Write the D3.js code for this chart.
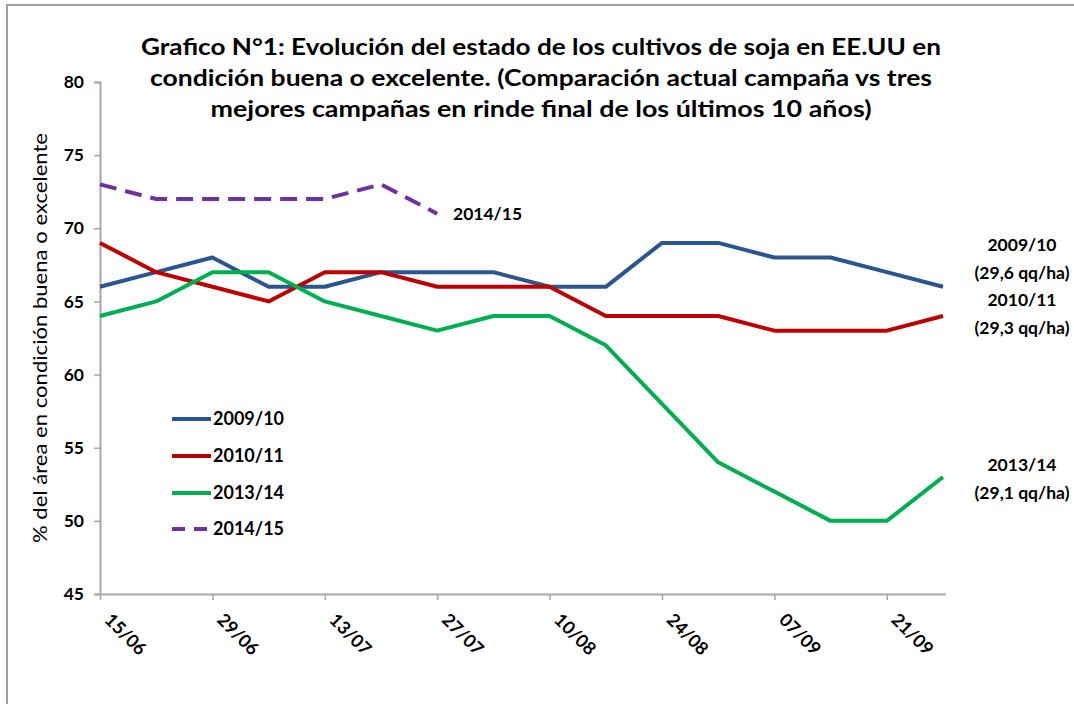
<!DOCTYPE html>
<html>
<head>
<meta charset="utf-8">
<script src="https://cdn.jsdelivr.net/npm/d3@7"></script>
<style>
  html, body { margin: 0; padding: 0; background: #fff; }
  svg { display: block; }
  text { font-family: Lato, "Open Sans", sans-serif; fill: #000; }
</style>
</head>
<body>
<svg id="chart" width="1074" height="704"></svg>
<script>
// ---- data ----
const weeks = ["15/06","22/06","29/06","06/07","13/07","20/07","27/07","03/08","10/08","17/08","24/08","31/08","07/09","14/09","21/09","28/09"];
const tickLabels = ["15/06","29/06","13/07","27/07","10/08","24/08","07/09","21/09"];
const yTicks = [45, 50, 55, 60, 65, 70, 75, 80];
const seriesNames = ["2009/10", "2010/11", "2013/14", "2014/15"];
const s2009 = [66, 67, 68, 66, 66, 67, 67, 67, 66, 66, 69, 69, 68, 68, 67, 66];
const s2010 = [69, 67, 66, 65, 67, 67, 66, 66, 66, 64, 64, 64, 63, 63, 63, 64];
const s2013 = [64, 65, 67, 67, 65, 64, 63, 64, 64, 62, 58, 54, 52, 50, 50, 53];
const s2014 = [73, 72, 72, 72, 72, 73, 71];
const endLabels = [
  ["2009/10", "(29,6 qq/ha)"],
  ["2010/11", "(29,3 qq/ha)"],
  ["2013/14", "(29,1 qq/ha)"]
];
const titleLines = [
  "Grafico N°1: Evolución del estado de los cultivos de soja en EE.UU en",
  "condición buena o excelente. (Comparación actual campaña vs tres",
  "mejores campañas en rinde final de los últimos 10 años)"
];
const yTitle = "% del área en condición buena o excelente";

// ---- layout ----
const svg = d3.select("#chart");
const colors = ["#2A5590", "#C00000", "#00B050", "#7030A0"];
const series = [s2009, s2010, s2013, s2014];

// chart area border (top & left visible)
svg.append("rect").attr("x", 7).attr("y", 5).attr("width", 1100).attr("height", 800)
  .attr("fill", "none").attr("stroke", "#A0A0A0").attr("stroke-width", 2);

const x = d3.scalePoint().domain(weeks).range([100, 943]);
const y = d3.scaleLinear().domain([45, 80]).range([594, 82]);

// title
const titleWidths = [800, 782, 661];
svg.append("g").selectAll("text").data(titleLines).join("text")
  .attr("x", 541).attr("y", (d, i) => 55 + i * 31)
  .attr("text-anchor", "middle")
  .attr("font-weight", "bold")
  .attr("font-size", 22)
  .attr("textLength", (d, i) => titleWidths[i])
  .attr("lengthAdjust", "spacingAndGlyphs")
  .text(d => d);

// y axis
const yAxis = svg.append("g").attr("transform", "translate(100,0)")
  .call(d3.axisLeft(y).tickValues(yTicks).tickSize(6).tickPadding(10));
yAxis.select(".domain").attr("stroke", "#A6A6A6").attr("stroke-width", 2);
yAxis.selectAll(".tick line").attr("stroke", "#A6A6A6").attr("stroke-width", 1.5);
yAxis.selectAll(".tick text").attr("font-size", 17.5).attr("font-weight", "bold")
  .attr("font-family", "Lato, sans-serif").attr("fill", "#000");

// x axis
const xAxis = svg.append("g").attr("transform", "translate(0,594)")
  .call(d3.axisBottom(x).tickValues(tickLabels).tickSize(6).tickSizeOuter(0));
xAxis.select(".domain").attr("d", "M100,0.5H946").attr("stroke", "#A6A6A6").attr("stroke-width", 2);
xAxis.selectAll(".tick line").attr("stroke", "#A6A6A6").attr("stroke-width", 1.5);
xAxis.selectAll(".tick text")
  .attr("font-size", 18).attr("font-weight", "bold")
  .attr("font-family", "Lato, sans-serif").attr("fill", "#000")
  .attr("text-anchor", "start")
  .attr("x", 0).attr("y", 0).attr("dy", 0)
  .attr("transform", "translate(3,27) rotate(45)");

// y axis title
svg.append("text")
  .attr("transform", "translate(47,338) rotate(-90)")
  .attr("text-anchor", "middle")
  .attr("font-size", 20)
  .attr("textLength", 410)
  .attr("lengthAdjust", "spacingAndGlyphs")
  .text(yTitle);

// lines
const line = d3.line().x((d, i) => x(weeks[i])).y(d => y(d));
series.forEach((s, k) => {
  svg.append("path").datum(s)
    .attr("d", line)
    .attr("fill", "none")
    .attr("stroke", colors[k])
    .attr("stroke-width", 4)
    .attr("stroke-linejoin", "round")
    .attr("stroke-dasharray", k === 3 ? "17,9" : null);
});

// 2014/15 label
svg.append("text").attr("x", 453).attr("y", 220)
  .attr("font-size", 17.5).attr("font-weight", "bold")
  .text(seriesNames[3]);

// end labels
const endY = [251, 306, 471];
endLabels.forEach((lab, k) => {
  lab.forEach((t, j) => {
    svg.append("text").attr("x", 1022).attr("y", endY[k] + j * 28)
      .attr("text-anchor", "middle")
      .attr("font-size", 17.5).attr("font-weight", "bold")
      .text(t);
  });
});

// legend
const legendY = [419, 456, 493, 529];
seriesNames.forEach((n, k) => {
  svg.append("line").attr("x1", 172).attr("x2", 211)
    .attr("y1", legendY[k]).attr("y2", legendY[k])
    .attr("stroke", colors[k]).attr("stroke-width", 4)
    .attr("stroke-dasharray", k === 3 ? "13,9" : null);
  svg.append("text").attr("x", 213).attr("y", legendY[k] + 6)
    .attr("font-size", 18).attr("font-weight", "bold")
    .text(n);
});
</script>
</body>
</html>
